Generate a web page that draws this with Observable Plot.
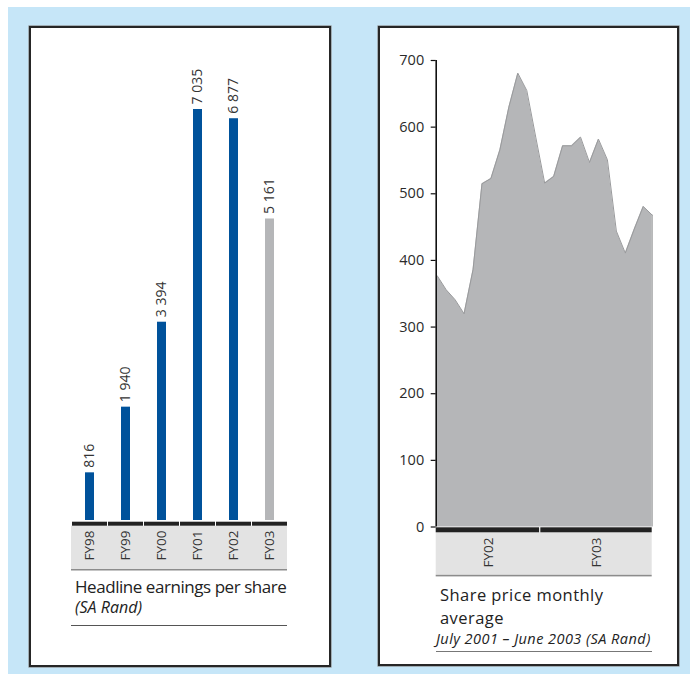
<!DOCTYPE html>
<html><head><meta charset="utf-8">
<script src="https://cdn.jsdelivr.net/npm/d3@7"></script>
<script src="https://cdn.jsdelivr.net/npm/@observablehq/plot@0.6"></script>
<style>
body{margin:0;background:#fff;font-family:"Open Sans",sans-serif;color:#222;}
#page{position:relative;width:690px;height:674px;overflow:hidden;background:#fff;}
.bg{position:absolute;left:8px;top:7px;width:682px;height:667px;background:#c6e6f8;}
.panel{position:absolute;box-sizing:border-box;border:2px solid #262626;background:#fff;box-shadow:0 0 0 0.6px #888;}
.chart{position:absolute;top:0;}
.cap{position:absolute;white-space:nowrap;line-height:20px;}
.rule{position:absolute;height:0;}
</style></head><body>
<div id="page">
  <div class="bg"></div>
  <div class="panel" style="left:29px;top:26px;width:302px;height:641px;"></div>
  <div class="panel" style="left:378px;top:26px;width:301px;height:640px;"></div>
  <div class="chart" id="chartL" style="left:0;"></div>
  <div class="chart" id="chartR" style="left:345px;"></div>
  <div class="cap" style="left:75px;top:577px;font-size:17px;letter-spacing:-0.45px;">Headline earnings per share</div>
  <div class="cap" style="left:75px;top:597px;font-size:16px;font-style:italic;letter-spacing:0px;">(SA Rand)</div>
  <div class="rule" style="left:71px;top:625px;width:216px;border-top:1px solid #555;"></div>
  <div class="cap" style="left:440px;top:584px;font-size:16.5px;line-height:22.6px;letter-spacing:0.45px;">Share price monthly<br>average</div>
  <div class="cap" style="left:436px;top:629px;font-size:14.5px;font-style:italic;letter-spacing:0.45px;">July 2001 – June 2003 (SA Rand)</div>
  <div class="rule" style="left:436px;top:651px;width:216px;border-top:1.5px solid #777;"></div>
</div>
<script>
// ---------- data ----------
const years = ["FY98", "FY99", "FY00", "FY01", "FY02", "FY03"];
const heps = [816, 1940, 3394, 7035, 6877, 5161];

const months = ["Jul 2001","Aug 2001","Sep 2001","Oct 2001","Nov 2001","Dec 2001",
  "Jan 2002","Feb 2002","Mar 2002","Apr 2002","May 2002","Jun 2002",
  "Jul 2002","Aug 2002","Sep 2002","Oct 2002","Nov 2002","Dec 2002",
  "Jan 2003","Feb 2003","Mar 2003","Apr 2003","May 2003","Jun 2003","Jul 2003"];
const sharePrice = [377, 356, 341, 320, 386, 515, 523, 566, 630, 681, 655, 585,
  516, 526, 572, 572, 585, 547, 582, 551, 444, 411, 447, 481, 468];
const fiscalYear = ["FY02","FY02","FY02","FY02","FY02","FY02","FY02","FY02","FY02","FY02","FY02","FY02",
  "FY03","FY03","FY03","FY03","FY03","FY03","FY03","FY03","FY03","FY03","FY03","FY03","FY03"];
const priceTicks = [0, 100, 200, 300, 400, 500, 600, 700];

// ---------- tables ----------
const epsData = years.map((year, i) => ({year, eps: heps[i]}));
const priceData = months.map((m, i) => ({i, month: m, price: sharePrice[i], fy: fiscalYear[i]}));
const fyGroups = Array.from(d3.group(priceData, d => d.fy), ([label, rows]) => {
  const lo = Math.max(0, d3.min(rows, r => r.i) - 0.5);
  const hi = Math.min(priceData.length - 1, d3.max(rows, r => r.i) + 0.5);
  return {label, lo, hi, mid: (lo + hi) / 2};
});

const fmt = d3.formatLocale({thousands: " ", grouping: [3], decimal: ".", currency: ["", ""]}).format(",");
const BLUE = "#00529b", GREY = "#b5b6b8";
const font = {background: "transparent", fontFamily: "Open Sans", color: "#2a2a2a"};

// ---------- left: headline earnings per share ----------
function stripLeft(index, scales, values, dims) {
  const x = scales.x;
  const bw = x.bandwidth ? x.bandwidth() : 9;
  const step = x.step ? x.step() : 36;
  const y0 = scales.y(0);
  const g = d3.create("svg:g");
  const left = dims.marginLeft, w = dims.width - dims.marginLeft - dims.marginRight;
  g.append("rect").attr("x", left).attr("width", w).attr("y", y0 + 5.7).attr("height", 43.6).attr("fill", "#e3e3e3");
  g.append("rect").attr("x", left).attr("width", w).attr("y", y0 + 49).attr("height", 1.5).attr("fill", "#8c8c8c");
  for (const c of x.domain()) {
    const cx = x(c) + bw / 2;
    g.append("rect").attr("x", cx - step / 2 + 0.5).attr("width", step - 1)
      .attr("y", y0 + 1.7).attr("height", 4).attr("fill", "#222");
  }
  return g.node();
}

const k = (520 - 109) / 7035;
const left = Plot.plot({
  width: 345, height: 580,
  marginLeft: 71, marginRight: 58, marginTop: 520 - 8000 * k, marginBottom: 60,
  x: {domain: years, paddingInner: 0.75, paddingOuter: 0.375, axis: null},
  y: {domain: [0, 8000], axis: null},
  style: {...font, fontSize: "13.5px"},
  marks: [
    stripLeft,
    Plot.barY(epsData, {x: "year", y: "eps", fill: d => d.year === "FY03" ? GREY : BLUE}),
    Plot.text(epsData, {x: "year", y: "eps", text: d => fmt(d.eps), rotate: -90, textAnchor: "start", dy: -5, fill: "#333", fontSize: 14}),
    Plot.text(epsData, {x: "year", y: () => 0, text: "year", rotate: -90, textAnchor: "end", dy: 10, fill: "#333", fontSize: 13.5})
  ]
});
document.getElementById("chartL").append(left);

// ---------- right: share price ----------
function stripRight(index, scales, values, dims) {
  const x = scales.x, y0 = scales.y(0);
  const g = d3.create("svg:g");
  const l = x(0) - 1, r = x(priceData.length - 1);
  g.append("rect").attr("x", l).attr("width", r - l).attr("y", y0 + 5.8).attr("height", 42.5).attr("fill", "#e3e3e3");
  g.append("rect").attr("x", l).attr("width", r - l).attr("y", y0 + 48.3).attr("height", 1.6).attr("fill", "#8c8c8c");
  for (const f of fyGroups) {
    const a = f.lo === 0 ? l : x(f.lo) + 0.6;
    const b = f.hi === priceData.length - 1 ? r : x(f.hi) - 0.6;
    g.append("rect").attr("x", a).attr("width", b - a).attr("y", y0 + 0.8).attr("height", 5).attr("fill", "#222");
  }
  return g.node();
}

const right = Plot.plot({
  width: 345, height: 580,
  marginLeft: 91.7, marginRight: 38.3, marginTop: 60, marginBottom: 53.5,
  x: {domain: [0, priceData.length - 1], axis: null},
  y: {domain: [0, 700], axis: null},
  style: {...font, fontSize: "14.5px"},
  marks: [
    stripRight,
    Plot.areaY(priceData, {x: "i", y: "price", fill: GREY}),
    Plot.lineY(priceData, {x: "i", y: "price", stroke: "#999a9c", strokeWidth: 1}),
    Plot.ruleX([priceData.length - 1], {y1: 0, y2: priceData[priceData.length - 1].price, stroke: "#999a9c", strokeWidth: 1}),
    Plot.ruleX([0], {y1: 0, y2: 700, stroke: "#111", strokeWidth: 1.6, dx: -1}),
    Plot.axisY({ticks: priceTicks, label: null, tickSize: 5, tickPadding: 7, stroke: "#111", strokeWidth: 1.2, fill: "#2a2a2a", dx: -1, fontSize: 14.5}),
    Plot.text(fyGroups, {x: "mid", y: () => 0, text: "label", rotate: -90, textAnchor: "end", dy: 10.5, fill: "#333", fontSize: 13.5})
  ]
});
document.getElementById("chartR").append(right);
</script>
</body></html>
